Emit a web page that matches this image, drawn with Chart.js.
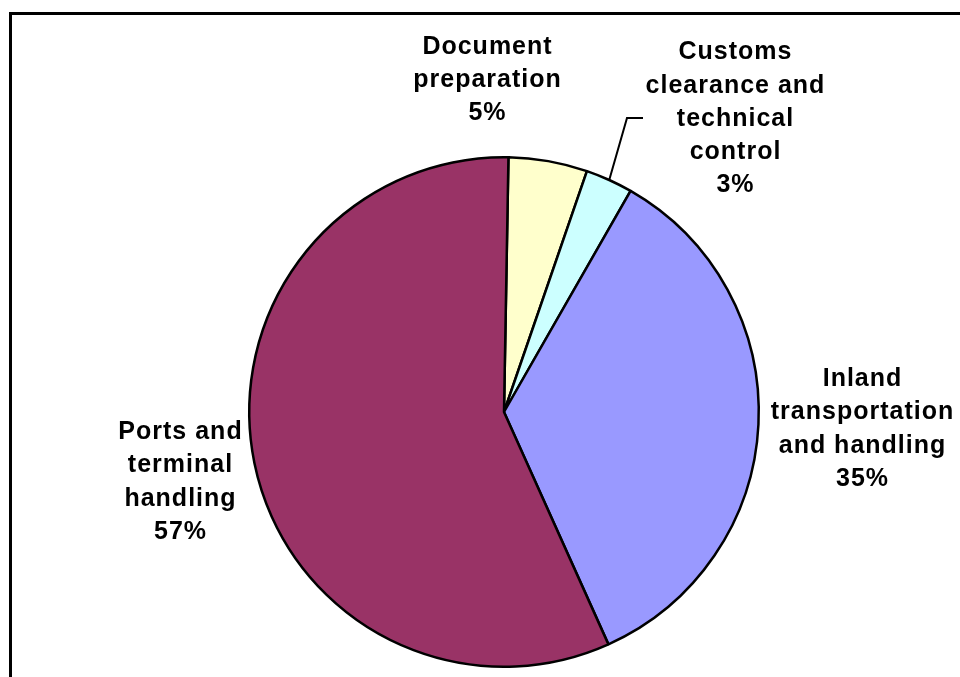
<!DOCTYPE html>
<html>
<head>
<meta charset="utf-8">
<script src="https://cdn.jsdelivr.net/npm/chart.js@4.4.1/dist/chart.umd.min.js"></script>
<style>
  html, body { margin: 0; padding: 0; background: #fff; overflow: hidden; }
  #cadre {
    position: absolute; left: 9px; top: 12px;
    width: 1000px; height: 1000px;
    border-left: 3px solid #000; border-top: 3px solid #000;
  }
  #graph { position: absolute; left: 0; top: 0; }
</style>
</head>
<body>
<div id="cadre"></div>
<canvas id="graph" width="960" height="677"></canvas>
<script>
// Données du camembert
const categories = [
    ['Document', 'preparation'],
    ['Customs', 'clearance and', 'technical', 'control'],
    ['Inland', 'transportation', 'and handling'],
    ['Ports and', 'terminal', 'handling']
];
const parts = [5, 3, 35, 57];
const couleurs = ['#FFFFCC', '#CCFFFF', '#9999FF', '#993366'];

// Position des étiquettes (décalage par rapport au centre du camembert)
const positionsEtiquettes = [
    { dx: -17, dy: -332 },
    { dx: 231, dy: -293 },
    { dx: 358, dy: 17 },
    { dx: -324, dy: 70 }
];
// Ligne de rappel pour la petite part (coude et extrémité)
const rappel = { index: 1, coude: { dx: 123, dy: -294 }, fin: { dx: 139, dy: -294 } };

const etiquettes = {
    id: 'etiquettes',
    afterDatasetsDraw(chart) {
        const ctx = chart.ctx;
        const arcs = chart.getDatasetMeta(0).data;
        ctx.save();
        ctx.fillStyle = '#000';
        ctx.font = 'bold 25px "Liberation Sans", Arial, sans-serif';
        ctx.textAlign = 'center';
        ctx.textBaseline = 'middle';
        if ('letterSpacing' in ctx) ctx.letterSpacing = '1px';
        const hauteurLigne = 33.3;

        arcs.forEach((arc, i) => {
            const cx = arc.x, cy = arc.y;
            const lignes = categories[i].concat([parts[i] + '%']);
            const pos = positionsEtiquettes[i];
            const y0 = cy + pos.dy - (lignes.length - 1) * hauteurLigne / 2;
            lignes.forEach((l, k) => {
                ctx.fillText(l, cx + pos.dx + 0.5, y0 + k * hauteurLigne);
            });
        });

        // ligne de rappel
        const arc = arcs[rappel.index];
        const milieu = (arc.startAngle + arc.endAngle) / 2;
        ctx.beginPath();
        ctx.strokeStyle = '#000';
        ctx.lineWidth = 2;
        ctx.moveTo(arc.x + Math.cos(milieu) * arc.outerRadius, arc.y + Math.sin(milieu) * arc.outerRadius);
        ctx.lineTo(arc.x + rappel.coude.dx, arc.y + rappel.coude.dy);
        ctx.lineTo(arc.x + rappel.fin.dx, arc.y + rappel.fin.dy);
        ctx.stroke();
        ctx.restore();
    }
};

new Chart(document.getElementById('graph'), {
    type: 'pie',
    data: {
        labels: categories,
        datasets: [{
            data: parts,
            backgroundColor: couleurs,
            borderColor: '#000',
            borderWidth: 2.5,
            hoverOffset: 0
        }]
    },
    options: {
        responsive: false,
        animation: false,
        rotation: 1,
        layout: { padding: { left: 248, right: 200, top: 156, bottom: 9 } },
        plugins: {
            legend: { display: false },
            tooltip: { enabled: false }
        }
    },
    plugins: [etiquettes]
});
</script>
</body>
</html>
